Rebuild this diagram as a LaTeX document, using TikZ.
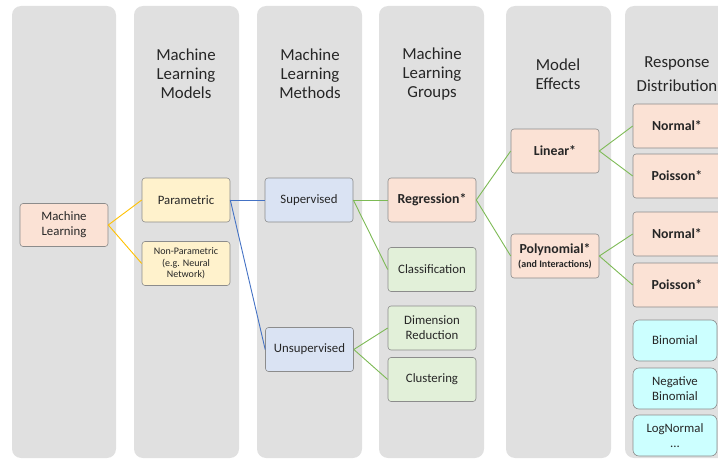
\documentclass[tikz,border=0pt]{standalone}
\usepackage{fontspec}
\setmainfont{Carlito}
\usepackage{tikz}
\definecolor{colgray}{HTML}{E0E0E0}
\definecolor{boxline}{HTML}{8C8C8C}
\definecolor{txt}{HTML}{262626}
\definecolor{peach}{HTML}{FBE2D5}
\definecolor{pale}{HTML}{FFF2CC}
\definecolor{lblue}{HTML}{DAE3F3}
\definecolor{lgreen}{HTML}{E2F0D9}
\definecolor{lcyan}{HTML}{CCFFFF}
\definecolor{ylw}{HTML}{FFC000}
\definecolor{blu}{HTML}{4472C4}
\definecolor{grn}{HTML}{7DBA55}

\begin{document}
\begin{tikzpicture}[x = 1pt, y = -1pt, line width = 0.9pt]
\tikzstyle{box} = [shape = rectangle, rounded corners = 3pt, draw = boxline, line width = 0.6pt, minimum width = 88pt, minimum height = 44pt, inner sep = 1pt, align = center, text = txt, font = \fontsize{12.8}{15}\selectfont]
\tikzstyle{boldbox} = [box, fill = peach, font = \bfseries\fontsize{13.8}{15}\selectfont]
\tikzstyle{head} = [align = center, text = txt, font = \fontsize{16.8}{19}\selectfont]
\useasboundingbox (0, 0) rectangle (718, 460);
\clip (0, 0) rectangle (718, 460);
\fill[colgray, rounded corners = 9pt] (12, 6) rectangle (116, 458);
\fill[colgray, rounded corners = 9pt] (134, 6) rectangle (239, 458);
\fill[colgray, rounded corners = 9pt] (257, 6) rectangle (362, 458);
\fill[colgray, rounded corners = 9pt] (379, 6) rectangle (484, 458);
\fill[colgray, rounded corners = 9pt] (506, 6) rectangle (611, 458);
\fill[colgray, rounded corners = 9pt] (625, 6) rectangle (740, 458);
\node[head] (T-2) at (186, 74) {Machine\\Learning\\Models};
\node[head] (T-3) at (310, 74) {Machine\\Learning\\Methods};
\node[head] (T-4) at (432, 74) {Machine\\Learning\\Groups};
\node[head] (T-5) at (558, 74) {Model\\Effects};
\node[head, font = \fontsize{16.8}{24}\selectfont] (T-6) at (677, 74) {Response\\Distribution};
\node[box, fill = peach, minimum height = 43pt] (ML) at (64, 225) {Machine\\Learning};
\node[box, fill = pale] (M-1) at (186, 200) {Parametric};
\node[box, fill = pale, font = \fontsize{10}{11.5}\selectfont] (M-2) at (186, 263.5) {Non-Parametric\\(e.g. Neural\\Network)};
\node[box, fill = lblue] (S-1) at (309, 200) {Supervised};
\node[box, fill = lblue] (S-2) at (309.5, 349.5) {Unsupervised};
\node[boldbox] (G-1) at (432, 200) {Regression*};
\node[box, fill = lgreen] (G-2) at (432, 269.5) {Classification};
\node[box, fill = lgreen] (G-3) at (432, 328) {Dimension\\Reduction};
\node[box, fill = lgreen] (G-4) at (432, 379.5) {Clustering};
\node[boldbox] (E-1) at (555, 151) {Linear*};
\node[boldbox] (E-2) at (555, 256) {Polynomial*\\[-1pt]{\fontsize{10}{11}\selectfont (and Interactions)}};
\node[boldbox] (D-1) at (677, 126) {Normal*};
\node[boldbox] (D-2) at (677, 176) {Poisson*};
\node[boldbox] (D-3) at (677, 234) {Normal*};
\node[boldbox] (D-4) at (677, 285) {Poisson*};
\node[box, fill = lcyan, rounded corners = 6pt, minimum width = 84pt, minimum height = 41pt] (D-5) at (675, 340.5) {Binomial};
\node[box, fill = lcyan, rounded corners = 6pt, minimum width = 84pt, minimum height = 41pt] (D-6) at (675, 388.5) {Negative\\Binomial};
\node[box, fill = lcyan, rounded corners = 6pt, minimum width = 84pt, minimum height = 41pt] (D-7) at (675, 435.5) {LogNormal\\...};
\draw[ylw] (ML.east) -- (M-1.west);
\draw[ylw] (ML.east) -- (M-2.west);
\draw[blu] (M-1.east) -- (S-1.west);
\draw[blu] (M-1.east) -- (S-2.west);
\draw[grn] (S-1.east) -- (G-1.west);
\draw[grn] (S-1.east) -- (G-2.west);
\draw[grn] (S-2.east) -- (G-3.west);
\draw[grn] (S-2.east) -- (G-4.west);
\draw[grn] (G-1.east) -- (E-1.west);
\draw[grn] (G-1.east) -- (E-2.west);
\draw[grn] (E-1.east) -- (D-1.west);
\draw[grn] (E-1.east) -- (D-2.west);
\draw[grn] (E-2.east) -- (D-3.west);
\draw[grn] (E-2.east) -- (D-4.west);
\end{tikzpicture}
\end{document}
